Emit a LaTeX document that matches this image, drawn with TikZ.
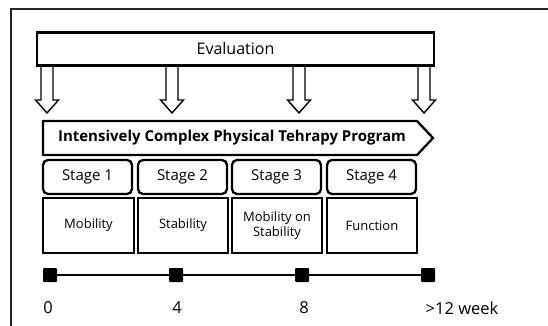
\documentclass[tikz,border=0pt]{standalone}
\usepackage{fontspec}
\setmainfont{Open Sans}
\begin{document}
\begin{tikzpicture}[x=1pt,y=-1pt,
  box/.style={draw=black,line width=2.3pt,inner sep=0pt,align=center,fill=white},
  stagebox/.style={box,rounded corners=5pt,minimum height=34pt,minimum width=89pt,font=\fontsize{15}{17}\selectfont},
  taskbox/.style={box,minimum height=55pt,font=\fontsize{13}{15}\selectfont},
  hollow/.style={draw=black,line width=1.4pt},
  tick/.style={fill=black,minimum size=14pt,inner sep=0pt,rounded corners=1pt},
  weeklabel/.style={font=\fontsize{16.5}{18}\selectfont,inner sep=0pt}]
\useasboundingbox (0,0) rectangle (548,326);
% outer frame (top and left edges only)
\draw[line width=1.4pt,black!85] (548,9) -- (11,9) -- (11,326);

% hollow arrows below the evaluation bar
\foreach \ax/\nm in {47/a0,172/a1,299/a2,424/a3}{
  \coordinate (\nm) at (\ax,64);
  \draw[hollow] ([xshift=-6pt]\nm) -- ++(0,36) -- ++(-5.5,0) -- ++(11.5,13) -- ++(11.5,-13) -- ++(-5.5,0) -- ++(0,-36);
}

% evaluation bar
\node[box,minimum width=397pt,minimum height=33pt,font=\fontsize{16}{18}\selectfont] (eval) at (235.5,49) {Evaluation};

% program banner
\node[inner sep=0pt,font=\bfseries\fontsize{15}{17}\selectfont] (prog) at (232,138) {Intensively Complex Physical Tehrapy Program};
\draw[line width=2.3pt,line join=miter] (43,121) -- (417,121) -- (433,138) -- (417,155) -- (43,155) -- cycle;

% stages
\node[stagebox] (s1) at (87.5,177) {Stage 1};
\node[stagebox] (s2) at (182.5,177) {Stage 2};
\node[stagebox] (s3) at (276.5,177) {Stage 3};
\node[stagebox] (s4) at (371.5,177) {Stage 4};

% stage contents
\node[taskbox,minimum width=91pt] (c1) at (88.5,225.5) {Mobility};
\node[taskbox,minimum width=90pt] (c2) at (183,225.5) {Stability};
\node[taskbox,minimum width=90pt] (c3) at (277,225.5) {Mobility on\\Stability};
\node[taskbox,minimum width=90pt] (c4) at (372,225.5) {Function};

% timeline
\node[tick] (t0) at (50,275) {};
\node[tick] (t1) at (176,275) {};
\node[tick] (t2) at (302,275) {};
\node[tick] (t3) at (428,275) {};
\draw[line width=2pt] (t0) -- (t1) -- (t2) -- (t3);

\node[weeklabel] (w0) at (48,308) {0};
\node[weeklabel] (w1) at (177,308) {4};
\node[weeklabel] (w2) at (304,308) {8};
\node[weeklabel] (w3) at (462,308) {>12 week};
\end{tikzpicture}
\end{document}
